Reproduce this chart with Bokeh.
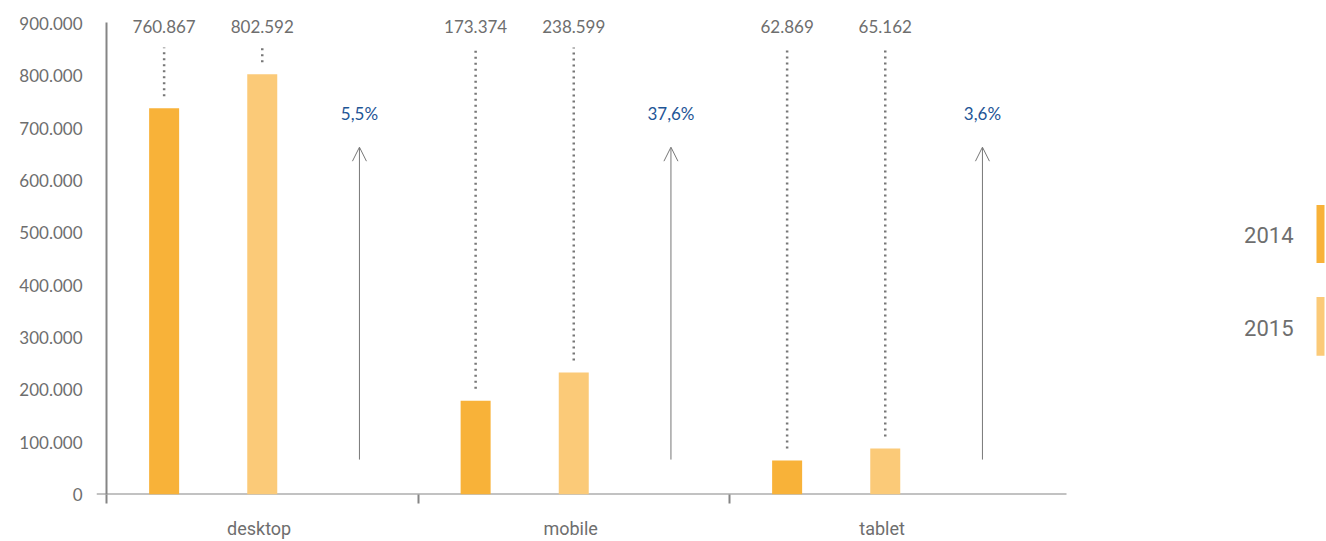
from bokeh.plotting import figure
from bokeh.models import Range1d, FixedTicker, Arrow, OpenHead
from bokeh.core.properties import value
from bokeh.embed import file_html
from bokeh.resources import INLINE

# ---------------- data ----------------
categories = ["desktop", "mobile", "tablet"]
years = ["2014", "2015"]
visits_2014 = [738000, 179000, 65000]
visits_2015 = [803000, 233000, 88000]
labels_2014 = ["760.867", "173.374", "62.869"]
labels_2015 = ["802.592", "238.599", "65.162"]
growth_labels = ["5,5%", "37,6%", "3,6%"]
y_ticks = [0, 100000, 200000, 300000, 400000, 500000, 600000, 700000, 800000, 900000]
y_tick_labels = ["0", "100.000", "200.000", "300.000", "400.000", "500.000",
                 "600.000", "700.000", "800.000", "900.000"]

# ---------------- layout ----------------
CW, CH = 1326, 541
FRAME_LEFT = 96
FRAME_BOTTOM = 495           # canvas px of y = 0
X0 = 106                     # canvas px of x = 0
PX_CAT = 311.5               # px per category
PPU = 472 / 900000           # px per unit on y

def xd(px):
    return (px - X0) / PX_CAT

def yd(py):
    return (FRAME_BOTTOM - py) / PPU

OFF_2014, OFF_2015, OFF_ARROW, OFF_LABEL = 0.185, 0.5, 0.812, 0.49
BAR_W = 30 / PX_CAT

C2014 = "#F8B239"
C2015 = "#FBCA78"
GRAY_TXT = "#6e6e6e"
AXIS_C = "#858585"
BLUE = "#1E5596"

p = figure(width=CW, height=CH, output_backend="svg", toolbar_location=None,
           x_range=Range1d(xd(FRAME_LEFT), xd(CW)), y_range=Range1d(0, yd(0)),
           min_border_left=FRAME_LEFT, min_border_right=0, min_border_top=0,
           min_border_bottom=CH - FRAME_BOTTOM)
p.outline_line_color = None
p.xgrid.visible = False
p.ygrid.visible = False
p.background_fill_color = "white"
p.border_fill_color = "white"

n = len(categories)
x14 = [i + OFF_2014 for i in range(n)]
x15 = [i + OFF_2015 for i in range(n)]
xar = [i + OFF_ARROW for i in range(n)]

# axis lines
p.segment(x0=[xd(FRAME_LEFT)], y0=[0], x1=[xd(1066)], y1=[0], line_color=AXIS_C, line_width=2)
p.segment(x0=[0], y0=[0], x1=[0], y1=[yd(22)], line_color=AXIS_C, line_width=2)

# bars
p.vbar(x=x14, top=visits_2014, width=BAR_W, fill_color=C2014, line_color=None)
p.vbar(x=x15, top=visits_2015, width=BAR_W, fill_color=C2015, line_color=None)

# dotted leaders
GAP = 12 / PPU
top_y = yd(47)
p.segment(x0=x14 + x15, y0=[v + GAP for v in visits_2014 + visits_2015],
          x1=x14 + x15, y1=[top_y] * (2 * n),
          line_color="#777777", line_width=2.5, line_dash="2 4")

# value labels
p.text(x=x14 + x15, y=[yd(26)] * (2 * n), text=labels_2014 + labels_2015,
       text_align="center", text_baseline="middle", text_color=GRAY_TXT,
       text_font=value("Lato"), text_font_size=value("17px"))

# arrows + growth
for xa in xar:
    p.add_layout(Arrow(end=OpenHead(size=14, line_color="#777777", line_width=1),
                       x_start=xa, y_start=yd(460), x_end=xa, y_end=yd(147),
                       line_color="#777777", line_width=1))
p.text(x=xar, y=[yd(113)] * n, text=growth_labels,
       text_align="center", text_baseline="middle", text_color=BLUE,
       text_font=value("Lato"), text_font_size=value("17px"))

# legend
leg_y = [yd(235), yd(328)]
p.text(x=[xd(1293)] * 2, y=leg_y, text=years, text_align="right", text_baseline="middle",
       text_color=GRAY_TXT, text_font=value("Roboto"), text_font_size=value("22px"))
p.quad(left=[xd(1316)] * 2, right=[xd(1324)] * 2,
       top=[yd(205), yd(297)], bottom=[yd(263), yd(356)],
       fill_color=[C2014, C2015], line_color=None)

# x axis
xa_ = p.xaxis[0]
xa_.ticker = FixedTicker(ticks=[i + OFF_LABEL for i in range(n)], minor_ticks=list(range(n)))
xa_.major_label_overrides = {i + OFF_LABEL: c for i, c in enumerate(categories)}
xa_.axis_line_color = None
xa_.major_tick_line_color = None
xa_.major_tick_out = 0
xa_.major_tick_in = 0
xa_.minor_tick_line_color = AXIS_C
xa_.minor_tick_line_width = 2
xa_.minor_tick_out = 9
xa_.minor_tick_in = 0
xa_.major_label_standoff = 14
xa_.major_label_text_font = "Roboto"
xa_.major_label_text_font_size = "18px"
xa_.major_label_text_color = GRAY_TXT

# y axis
ya = p.yaxis[0]
ya.ticker = FixedTicker(ticks=y_ticks)
ya.major_label_overrides = {t: l for t, l in zip(y_ticks, y_tick_labels)}
ya.axis_line_color = None
ya.major_tick_line_color = None
ya.minor_tick_line_color = None
ya.major_tick_out = 0
ya.major_tick_in = 0
ya.major_label_standoff = 14
ya.major_label_text_font = "Lato"
ya.major_label_text_font_size = "17px"
ya.major_label_text_color = GRAY_TXT

open("out.html", "w").write(file_html(p, INLINE))
